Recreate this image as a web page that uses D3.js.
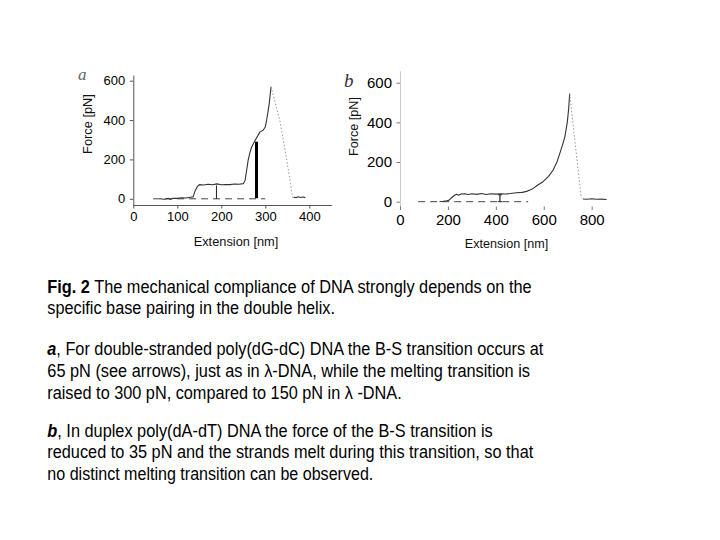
<!DOCTYPE html>
<html><head><meta charset="utf-8">
<script src="https://cdn.jsdelivr.net/npm/d3@7"></script>
<style>body{margin:0;background:#fff}svg{display:block}</style>
</head><body>
<svg id="c" width="720" height="540"></svg>
<script>
// ---------- data ----------
const xTicksA = [0, 100, 200, 300, 400];
const yTicksA = [0, 200, 400, 600];
const xTicksB = [0, 200, 400, 600, 800];
const yTicksB = [0, 200, 400, 600];

// panel a: stretching trace (extension nm, force pN)
const traceA = [[60,0],[70,-2],[80,2],[85,-3],[90,3],[100,2],[110,5],[120,4],[130,8],[136,10],[140,38],[145,60],[150,72],[160,70],[170,74],[180,71],[190,76],[200,71],[210,73],[220,72],[230,75],[240,74],[250,77],[254,93],[258,150],[261,195],[265,235],[269,263],[277,297],[288,340],[295,348],[300,365],[303,399],[306,440],[309,485],[313,569]];
const dropA = [[313,569],[333,399],[349,195],[360,34],[362,5]];
const tailA = [[364,8],[370,6],[375,10],[380,7],[386,9],[391,6]];
const baseA = [[45,0],[300,0]];
const arrowThinA = [[189,0],[189,68]];
const arrowThickA = [[280,3],[280,290]];

// panel b
const traceB = [[165,0],[180,2],[195,5],[205,8],[215,20],[225,30],[235,38],[245,33],[255,39],[270,40],[285,36],[300,40],[320,37],[340,41],[360,36],[380,40],[400,38],[420,40],[440,39],[460,41],[486,45],[510,47],[528,52],[545,60],[556,67],[575,84],[597,101],[620,128],[639,160],[655,200],[667,244],[678,285],[688,327],[698,400],[704,470],[708,546]];
const dropB = [[708,546],[735,250],[757,17]];
const tailB = [[763,14],[780,12],[800,15],[820,12],[840,13],[862,11]];
const baseB = [[76,0],[535,0]];
const markB = [[417,0],[417,35]];

const captionLines = [
  {parts:[{t:"Fig. 2",w:"bold"},{t:" The mechanical compliance of DNA strongly depends on the"}], end:531.7},
  {parts:[{t:"specific base pairing in the double helix."}], end:335},
  {parts:[{t:"a",w:"bold",s:"italic"},{t:", For double-stranded poly(dG-dC) DNA the B-S transition occurs at"}], end:543.3},
  {parts:[{t:"65 pN (see arrows), just as in λ-DNA, while the melting transition is"}], end:530},
  {parts:[{t:"raised to 300 pN, compared to 150 pN in λ -DNA."}], end:401.7},
  {parts:[{t:"b",w:"bold",s:"italic"},{t:", In duplex poly(dA-dT) DNA the force of the B-S transition is"}], end:492.7},
  {parts:[{t:"reduced to 35 pN and the strands melt during this transition, so that"}], end:533.3},
  {parts:[{t:"no distinct melting transition can be observed."}], end:373.3}
];
const captionBaselines = [292.7, 314.3, 355, 377.3, 399.3, 436.7, 458.3, 480.3];

// ---------- drawing ----------
const svg = d3.select("#c");
const line = d3.line().x(d=>d[0]).y(d=>d[1]);

function panel(o){
  const g = svg.append("g");
  const x = d3.scaleLinear().domain([0, o.xMax]).range(o.xr);
  const y = d3.scaleLinear().domain([0, 600]).range(o.yr);
  const P = arr => arr.map(d=>[x(d[0]), y(d[1])]);

  // y axis
  const yAx = d3.scaleLinear().domain(o.yDom).range([y(o.yDom[0]), y(o.yDom[1])]);
  const ya = g.append("g").attr("transform",`translate(${x(0)},0)`)
    .call(d3.axisLeft(yAx).tickValues(o.yTicks).tickSize(3.5).tickSizeOuter(0).tickPadding(o.yPad));
  ya.select(".domain").attr("stroke", o.axisColor).attr("stroke-width",1);
  ya.selectAll(".tick line").attr("stroke", o.tickColor);
  ya.selectAll("text").attr("font-family","Liberation Sans, Arial, sans-serif").attr("font-size",o.fs).attr("fill","#000");

  // x axis
  const xAx = d3.scaleLinear().domain(o.xDom).range([x(o.xDom[0]), x(o.xDom[1])]);
  const xa = g.append("g").attr("transform",`translate(0,${o.xAxisY})`)
    .call(d3.axisBottom(xAx).tickValues(o.xTicks).tickSize(3.5).tickSizeOuter(0).tickPadding(o.xPad));
  xa.select(".domain").attr("stroke", o.xAxisColor).attr("stroke-width",1);
  xa.selectAll(".tick line").attr("stroke", o.tickColor);
  xa.selectAll("text").attr("font-family","Liberation Sans, Arial, sans-serif").attr("font-size",o.fs).attr("fill","#000");

  // baseline dashed
  g.append("path").attr("d", line(P(o.base))).attr("fill","none")
    .attr("stroke","#444").attr("stroke-width",1).attr("stroke-dasharray","7,5");
  // trace
  g.append("path").attr("d", line(P(o.trace))).attr("fill","none")
    .attr("stroke","#333").attr("stroke-width",1.1).attr("stroke-linejoin","round");
  g.append("path").attr("d", line(P(o.drop))).attr("fill","none")
    .attr("stroke","#999").attr("stroke-width",1).attr("stroke-dasharray","1.5,2");
  g.append("path").attr("d", line(P(o.tail))).attr("fill","none")
    .attr("stroke","#333").attr("stroke-width",1.1);

  // labels
  g.append("text").attr("transform",`translate(${o.ylab[0]},${o.ylab[1]}) rotate(-90)`)
    .attr("text-anchor","middle").attr("dominant-baseline","central")
    .attr("font-family","Liberation Sans, Arial, sans-serif").attr("font-size",o.lfs).attr("fill","#111")
    .text("Force [pN]");
  g.append("text").attr("x",o.xlab[0]).attr("y",o.xlab[1])
    .attr("text-anchor","middle").attr("dominant-baseline","central")
    .attr("font-family","Liberation Sans, Arial, sans-serif").attr("font-size",o.lfs).attr("fill","#111")
    .text("Extension [nm]");
  g.append("text").attr("x",o.letter[0]).attr("y",o.letter[1])
    .attr("font-family","Liberation Serif, Times New Roman, serif").attr("font-style","italic")
    .attr("font-size",o.letterSize).attr("fill",o.letterColor).text(o.name);
  return {g,x,y,P};
}

const A = panel({
  name:"a", xMax:400, xr:[133.3,309.3], yr:[198.8,80.7],
  yDom:[-32,629], xDom:[0,450], xAxisY:205,
  xTicks:xTicksA, yTicks:yTicksA, fs:13, lfs:12.8, xPad:3.5, yPad:4.5,
  axisColor:"#555", xAxisColor:"#555", tickColor:"#555",
  base:baseA, trace:traceA, drop:dropA, tail:tailA,
  ylab:[87.5,124], xlab:[236,241.5], letter:[78,80], letterSize:17, letterColor:"#666"
});
// arrows in a
A.g.append("path").attr("d", line(A.P(arrowThinA))).attr("stroke","#222").attr("stroke-width",1);
A.g.append("path").attr("d", line(A.P(arrowThickA))).attr("stroke","#000").attr("stroke-width",3);

const B = panel({
  name:"b", xMax:800, xr:[400,591.7], yr:[201.7,82.7],
  yDom:[-25,660], xDom:[0,880], xAxisY:206.5,
  xTicks:xTicksB, yTicks:yTicksB, fs:15, lfs:12.6, xPad:4, yPad:4.5,
  axisColor:"#ccc", xAxisColor:"none", tickColor:"#777",
  base:baseB, trace:traceB, drop:dropB, tail:tailB,
  ylab:[353.5,126.5], xlab:[506.5,243.5], letter:[344,87], letterSize:19, letterColor:"#333"
});
// marker in b
B.g.append("path").attr("d", line(B.P(markB))).attr("stroke","#222").attr("stroke-width",1.2);
B.g.selectAll(".cap").data(markB).enter().append("line")
  .attr("x1",d=>B.x(d[0])-2).attr("x2",d=>B.x(d[0])+2)
  .attr("y1",d=>B.y(d[1])).attr("y2",d=>B.y(d[1])).attr("stroke","#222");

// caption
const cap = svg.append("g").attr("font-family","Liberation Sans, Arial, sans-serif").attr("font-size",17.5).attr("fill","#000");
captionLines.forEach((ln,i)=>{
  const t = cap.append("text").attr("x",47.3).attr("y",captionBaselines[i]);
  ln.parts.forEach(p=>{
    t.append("tspan").attr("font-weight",p.w||"normal").attr("font-style",p.s||"normal").text(p.t);
  });
  const w = t.node().getComputedTextLength();
  const target = ln.end - 47.3;
  if (Math.abs(w-target) > 1) t.attr("textLength", target).attr("lengthAdjust","spacingAndGlyphs");
});
</script>
</body></html>
